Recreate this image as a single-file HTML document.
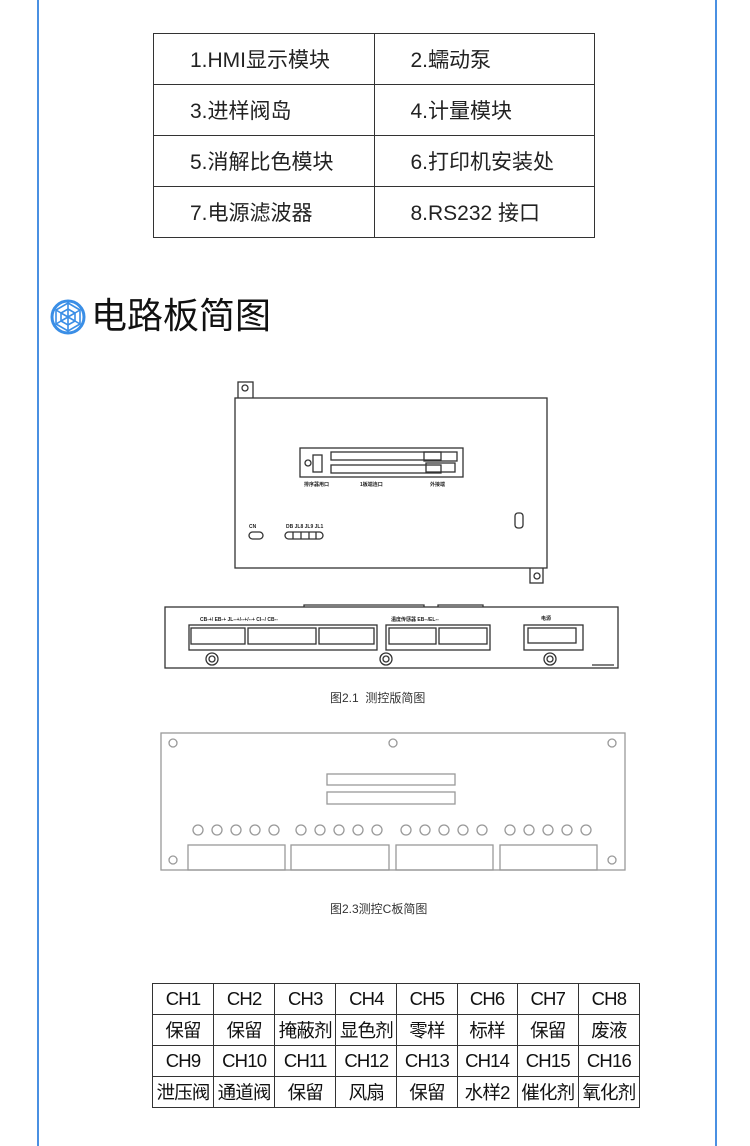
<!DOCTYPE html>
<html><head><meta charset="utf-8"><style>
body{margin:0;width:750px;height:1146px;background:#fff;position:relative;overflow:hidden;font-family:"Liberation Sans","Noto Sans CJK SC",sans-serif;}
.vl{position:absolute;top:0;width:2px;height:1146px;background:#4a90e2;}
table{border-collapse:collapse;position:absolute;}
#t1{left:153px;top:33px;width:442px;}
#t1 td{border:1.5px solid #333;height:51px;font-size:21px;color:#222;padding:0 0 0 36px;width:50%;box-sizing:border-box;}
#t2{left:152px;top:983px;width:488px;}
#t2 td{border:1.5px solid #333;height:30px;font-size:18.5px;color:#111;text-align:center;padding:0;width:61px;white-space:nowrap;letter-spacing:-0.8px;}
.h{position:absolute;left:91px;top:292px;font-size:36px;color:#111;line-height:48px;}
.cap{position:absolute;font-size:12px;color:#333;}
</style></head><body>
<div class="vl" style="left:37px"></div>
<div class="vl" style="left:715px"></div>
<table id="t1">
<tr><td>1.HMI显示模块</td><td>2.蠕动泵</td></tr>
<tr><td>3.进样阀岛</td><td>4.计量模块</td></tr>
<tr><td>5.消解比色模块</td><td>6.打印机安装处</td></tr>
<tr><td>7.电源滤波器</td><td>8.RS232 接口</td></tr>
</table>
<svg style="position:absolute;left:50px;top:299px" width="36" height="36" viewBox="0 0 36 36">
<circle cx="18" cy="18" r="16" fill="none" stroke="#3a8ee6" stroke-width="3"/>
<g stroke="#3a8ee6" stroke-width="1.6" fill="none">
<polygon points="18,4 30,11 30,25 18,32 6,25 6,11"/>
<polygon points="18,10 25,14 25,22 18,26 11,22 11,14"/>
<path d="M18,4L18,10M30,11L25,14M30,25L25,22M18,32L18,26M6,25L11,22M6,11L11,14M11,14L25,22M25,14L11,22M18,10L18,26"/>
</g></svg>
<div class="h">电路板简图</div>

<svg style="position:absolute;left:0;top:0" width="750" height="1146">
<g fill="none" stroke="#333" stroke-width="1.3">
<rect x="238" y="382" width="15" height="17"/><circle cx="245" cy="388" r="3"/>
<rect x="530" y="567" width="13" height="16"/><circle cx="537" cy="576" r="3"/>
<rect x="235" y="398" width="312" height="170" fill="#fff"/>
<rect x="300" y="448" width="163" height="29"/>
<rect x="313" y="455" width="9" height="17"/><circle cx="308" cy="463" r="3"/>
<rect x="331" y="452" width="110" height="8"/><rect x="331" y="465" width="110" height="8"/>
<rect x="424" y="452" width="33" height="9"/><rect x="426" y="463" width="29" height="9"/>
<rect x="515" y="513" width="8" height="15" rx="3"/>
<rect x="249" y="532" width="14" height="7" rx="3.5"/>
<rect x="285" y="532" width="38" height="7" rx="3.5"/>
<path d="M293,532v7M301,532v7M309,532v7M316,532v7"/>
<rect x="165" y="607" width="453" height="61"/>
<path d="M304,607v-2h120v2M438,607v-2h45v2"/>
<rect x="189" y="625" width="188" height="25"/>
<rect x="191" y="628" width="54" height="16"/><rect x="248" y="628" width="68" height="16"/><rect x="319" y="628" width="55" height="16"/>
<rect x="386" y="625" width="104" height="25"/>
<rect x="389" y="628" width="47" height="16"/><rect x="439" y="628" width="48" height="16"/>
<rect x="524" y="625" width="59" height="25"/><rect x="528" y="628" width="48" height="15"/>
<circle cx="212" cy="659" r="6"/><circle cx="212" cy="659" r="3"/>
<circle cx="386" cy="659" r="6"/><circle cx="386" cy="659" r="3"/>
<circle cx="550" cy="659" r="6"/><circle cx="550" cy="659" r="3"/>
<path d="M592,665h22"/>
<rect x="161" y="733" width="464" height="137" stroke="#999"/>
<g stroke="#999">
<circle cx="173" cy="743" r="4"/><circle cx="393" cy="743" r="4"/><circle cx="612" cy="743" r="4"/>
<circle cx="173" cy="860" r="4"/><circle cx="612" cy="860" r="4"/>
<rect x="327" y="774" width="128" height="11"/><rect x="327" y="792" width="128" height="12"/>
<rect x="188" y="845" width="97" height="25"/><rect x="291" y="845" width="98" height="25"/>
<rect x="396" y="845" width="97" height="25"/><rect x="500" y="845" width="97" height="25"/>
<g id="cs"><circle cx="198" cy="830" r="5"/><circle cx="217" cy="830" r="5"/><circle cx="236" cy="830" r="5"/><circle cx="255" cy="830" r="5"/><circle cx="274" cy="830" r="5"/></g>
<use href="#cs" x="103"/><use href="#cs" x="208"/><use href="#cs" x="312"/>
</g>
</g>
<g font-size="5" fill="#222" font-weight="bold">
<text x="200" y="621">CB-+/ EB-+   JL--+/--+/--+   CI--/ CB--</text>
<text x="391" y="621">温度传感器  EB--/EL--</text>
<text x="541" y="620">电源</text>
<text x="249" y="528">CN</text><text x="286" y="528">DB JL8 JL9 JL1</text>
<text x="304" y="486">排序器用口</text><text x="360" y="486">1板端连口</text><text x="430" y="486">外接端</text>
</g>
</svg>
<div class="cap" style="left:330px;top:689px">图2.1&nbsp; 测控版简图</div>
<div class="cap" style="left:330px;top:900px">图2.3测控C板简图</div>
<table id="t2">
<tr><td>CH1</td><td>CH2</td><td>CH3</td><td>CH4</td><td>CH5</td><td>CH6</td><td>CH7</td><td>CH8</td></tr>
<tr><td>保留</td><td>保留</td><td>掩蔽剂</td><td>显色剂</td><td>零样</td><td>标样</td><td>保留</td><td>废液</td></tr>
<tr><td>CH9</td><td>CH10</td><td>CH11</td><td>CH12</td><td>CH13</td><td>CH14</td><td>CH15</td><td>CH16</td></tr>
<tr><td>泄压阀</td><td>通道阀</td><td>保留</td><td>风扇</td><td>保留</td><td>水样2</td><td>催化剂</td><td>氧化剂</td></tr>
</table>
</body></html>
